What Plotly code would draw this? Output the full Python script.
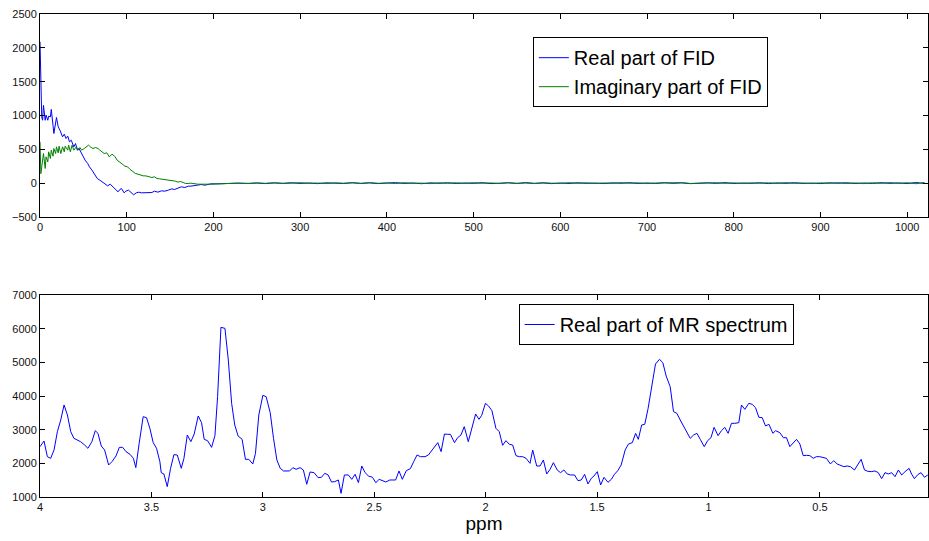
import plotly.graph_objects as go

# ---------------- Top panel: FID (sample index vs amplitude) ----------------
real_n = [0, 2, 3, 4, 6, 7, 9, 10, 12, 13, 15, 16, 19, 21, 23, 26, 28, 30, 32, 34,
          36, 39, 41, 43, 45, 48, 50, 52, 55, 57, 60, 63, 66, 69, 72, 75, 78, 81, 84, 87,
          90, 92, 94, 97, 99, 102, 105, 108, 111, 114, 117, 121, 125, 129, 132, 136, 140, 144, 148, 152,
          155, 159, 163, 167, 171, 174, 178, 182, 186, 190, 194, 197, 205, 213, 220, 228]
real_v = [2090, 980, 930, 1150, 930, 1005, 930, 990, 980, 1090, 857, 734, 970, 833, 783, 685, 724, 660, 695, 611,
          635, 537, 586, 488, 512, 438, 389, 340, 291, 241, 192, 133, 69, 44, 20, -5, -39, -15, -54, -79,
          -128, -94, -79, -143, -118, -103, -143, -172, -143, -133, -143, -138, -133, -138, -118, -133, -113, -118, -103, -84,
          -94, -74, -54, -64, -44, -44, -34, -25, -20, -30, -15, -10, -10, -5, 0, 0]

imag_n = [0, 1, 4, 6, 7, 9, 10, 12, 13, 15, 16, 18, 19, 21, 22, 24, 26, 28, 29, 32,
          33, 35, 37, 39, 42, 44, 46, 48, 51, 54, 56, 58, 61, 64, 67, 69, 71, 74, 77, 80,
          83, 86, 89, 92, 95, 98, 101, 104, 107, 110, 113, 116, 119, 122, 126, 129, 132, 135, 138, 141,
          144, 147, 150, 153, 156, 159, 162, 165, 168, 171, 174, 182, 190, 197, 205, 213, 220, 228]
imag_v = [610, 140, 438, 217, 389, 315, 463, 365, 488, 399, 512, 438, 537, 448, 547, 438, 537, 463, 547, 488,
          562, 463, 562, 488, 537, 488, 527, 488, 512, 537, 562, 537, 512, 527, 512, 488, 463, 438, 448, 389,
          429, 399, 340, 315, 281, 251, 241, 202, 167, 143, 133, 118, 108, 108, 94, 84, 94, 69, 64, 59,
          50, 45, 45, 40, 30, 15, 25, 10, -5, -5, 0, -15, -20, -15, -10, -5, -5, 0]

tail_n = list(range(240, 1021, 10))
real_tail = [-3, 2, -6, 4, -2, 6, -4, 3, -7, 5, 0, -5, 7, -3, 4, -6, 2, 8, -4, 3,
             -8, 5, -2, 6, -5, 3, -3, 7, -6, 2, 5, -4, 8, -2, 4, -7, 3, -4, 6, -3,
             2, -6, 5, -1, 7, -5, 3, -4, 6, -2, 4, -7, 2, 5, -3, 8, -5, 3, -2, 6,
             -6, 4, -3, 7, -4, 2, -6, 5, -1, 6, -5, 3, -4, 7, -3, 4, -6, 9, -4]
imag_tail = [-6, 3, -2, 5, -5, 1, 6, -3, 2, -6, 4, -1, 5, -4, 7, -2, 3, -5, 6, -3,
             1, -7, 4, -2, 5, -4, 6, -1, 3, -5, 7, -3, 2, -6, 4, 0, -4, 6, -2, 5,
             -5, 3, -3, 6, -1, 4, -6, 2, 5, -3, 7, -4, 1, -5, 6, -2, 4, -6, 3, -1,
             5, -4, 7, -3, 2, -6, 4, -2, 6, -5, 3, -7, 5, -2, 8, -4, 6, -8, 10]

# ---------------- Bottom panel: MR spectrum (ppm vs amplitude) ----------------
ppm = [4.000, 3.982, 3.967, 3.952, 3.937, 3.922, 3.907, 3.892, 3.877, 3.862,
       3.848, 3.833, 3.818, 3.800, 3.785, 3.767, 3.752, 3.740, 3.725, 3.710,
       3.692, 3.677, 3.659, 3.644, 3.629, 3.614, 3.596, 3.581, 3.570, 3.555,
       3.537, 3.522, 3.507, 3.492, 3.477, 3.462, 3.456, 3.444, 3.429, 3.414,
       3.399, 3.384, 3.366, 3.354, 3.339,
       3.323, 3.308, 3.290, 3.275, 3.263, 3.248, 3.230, 3.215, 3.203, 3.188,
       3.170, 3.155, 3.140, 3.126, 3.111, 3.093, 3.078, 3.063, 3.045, 3.033,
       3.018, 3.000, 2.985, 2.967, 2.952, 2.937, 2.922, 2.907, 2.880, 2.865,
       2.851, 2.833, 2.818, 2.803, 2.788, 2.770, 2.752, 2.737, 2.722, 2.707,
       2.692, 2.677,
       2.661, 2.649, 2.634, 2.616, 2.601, 2.586, 2.571, 2.556, 2.541, 2.526,
       2.508, 2.493, 2.478, 2.463, 2.448, 2.430, 2.404, 2.389, 2.374, 2.356,
       2.338, 2.323, 2.308, 2.293, 2.272, 2.257, 2.242, 2.227, 2.215, 2.200,
       2.185, 2.170, 2.158, 2.140, 2.126, 2.111, 2.096, 2.078, 2.063, 2.045,
       2.030, 2.018,
       2.001, 1.987, 1.972, 1.954, 1.939, 1.924, 1.909, 1.894, 1.879, 1.864,
       1.849, 1.834, 1.819, 1.801, 1.789, 1.771, 1.756, 1.741, 1.726, 1.711,
       1.696, 1.679, 1.664, 1.649, 1.634, 1.619, 1.601, 1.586, 1.571, 1.556,
       1.541, 1.526, 1.514, 1.499, 1.484, 1.469, 1.451, 1.436, 1.422, 1.407,
       1.392, 1.374, 1.359,
       1.342, 1.327, 1.315, 1.300, 1.286, 1.271, 1.256, 1.238, 1.220, 1.205,
       1.190, 1.172, 1.157, 1.142, 1.127, 1.112, 1.097, 1.082, 1.067, 1.052,
       1.037, 1.019, 1.004, 0.989, 0.975, 0.957, 0.942, 0.927, 0.912, 0.897,
       0.882, 0.864, 0.852, 0.837, 0.819, 0.804, 0.789, 0.774, 0.759, 0.744,
       0.729, 0.711, 0.699,
       0.680, 0.664, 0.650, 0.635, 0.620, 0.605, 0.590, 0.575, 0.560, 0.545,
       0.530, 0.516, 0.501, 0.486, 0.471, 0.453, 0.438, 0.423, 0.408, 0.393,
       0.378, 0.363, 0.345, 0.330, 0.315, 0.300, 0.285, 0.270, 0.253, 0.238,
       0.223, 0.208, 0.193, 0.178, 0.163, 0.148, 0.133, 0.118, 0.100, 0.088,
       0.076, 0.061, 0.046, 0.031, 0.016]
spectrum = [2495, 2663, 2198, 2149, 2396, 2941, 3287, 3733, 3436, 2941,
            2743, 2693, 2644, 2545, 2446, 2644, 2970, 2891, 2515, 2396,
            1951, 2050, 2218, 2475, 2475, 2347, 2268, 2149, 1872, 2594,
            3386, 3356, 3040, 2614, 2446, 2050, 1723, 1684, 1307, 1852,
            2258, 2248, 1852, 2149, 2842,
            2644, 2871, 3406, 3208, 2713, 2673, 2475, 2822, 3980, 6040,
            6010, 5070, 3782, 3139, 2812, 2713, 2119, 2119, 1981, 2297,
            3436, 4020, 3980, 3505, 2743, 2099, 1852, 1773, 1773, 1872,
            1822, 1872, 1802, 1377, 1743, 1723, 1575, 1585, 1703, 1654,
            1446, 1456,
            1505, 1109, 1654, 1654, 1525, 1674, 1426, 1921, 1723, 1624,
            1585, 1426, 1525, 1476, 1446, 1505, 1505, 1773, 1525, 1783,
            1842, 2050, 2248, 2198, 2198, 2248, 2376, 2515, 2614, 2347,
            2871, 2862, 2862, 2614, 2762, 2842, 3089, 2644, 3040, 3466,
            3307, 3426,
            3782, 3703, 3565, 3040, 2941, 2535, 2673, 2565, 2545, 2228,
            2198, 2198, 2149, 2000, 2396, 1921, 1921, 2099, 1684, 1822,
            2020, 1802, 1723, 1802, 1684, 1654, 1654, 1486, 1505, 1674,
            1387, 1555, 1624, 1753, 1357, 1585, 1436, 1525, 1674, 1783,
            1951, 2396, 2575,
            2614, 2891, 2713, 3139, 3159, 3634, 4277, 4950, 5089, 4990,
            4594, 4277, 3535, 3485, 3287, 3089, 2911, 2743, 2842, 2891,
            2713, 2495, 2673, 2762, 3069, 2822, 2970, 3069, 2891, 3188,
            3188, 3208, 3733, 3604, 3782, 3753, 3654, 3367, 3357, 3109,
            3159, 2891, 2970,
            2911, 2762, 2762, 2495, 2614, 2713, 2575, 2228, 2238, 2228,
            2149, 2198, 2198, 2169, 2149, 1981, 2080, 1981, 1951, 1901,
            1921, 1901, 1802, 1951, 2119, 1802, 1763, 1753, 1773, 1723,
            1545, 1723, 1684, 1723, 1604, 1802, 1654, 1753, 1852, 1674,
            1545, 1664, 1723, 1585, 1654]

top_yticks = [-500, 0, 500, 1000, 1500, 2000, 2500]
top_xticks = [0, 100, 200, 300, 400, 500, 600, 700, 800, 900, 1000]
bot_yticks = [1000, 2000, 3000, 4000, 5000, 6000, 7000]
bot_xticks = [4, 3.5, 3, 2.5, 2, 1.5, 1, 0.5]
bot_xtext = ["4", "3.5", "3", "2.5", "2", "1.5", "1", "0.5"]

FONT = "Liberation Sans, Arial, Helvetica, sans-serif"
BLUE = "#0000ff"
GREEN = "#008000"

fig = go.Figure()
fig.add_trace(go.Scatter(x=real_n + tail_n, y=real_v + real_tail, mode="lines",
                         line=dict(color=BLUE, width=1), name="Real part of FID",
                         xaxis="x", yaxis="y", legend="legend"))
fig.add_trace(go.Scatter(x=imag_n + tail_n, y=imag_v + imag_tail, mode="lines",
                         line=dict(color=GREEN, width=1), name="Imaginary part of FID",
                         xaxis="x", yaxis="y", legend="legend"))
fig.add_trace(go.Scatter(x=ppm, y=spectrum, mode="lines",
                         line=dict(color=BLUE, width=1), name="Real part of MR spectrum",
                         xaxis="x2", yaxis="y2", legend="legend2"))

axis_common = dict(showline=True, linecolor="black", linewidth=1, mirror="ticks",
                   ticks="inside", ticklen=5, tickcolor="black", showgrid=False,
                   zeroline=False, automargin=False,
                   tickfont=dict(family=FONT, size=11, color="#111111"))

fig.update_layout(
    width=929, height=541,
    margin=dict(l=40, r=1, t=14, b=44),
    paper_bgcolor="white", plot_bgcolor="white",
    font=dict(family=FONT, color="black"),
    xaxis=dict(domain=[0, 1], range=[0, 1024], tickvals=top_xticks, anchor="y", **axis_common),
    yaxis=dict(domain=[0.5797, 1], range=[-500, 2500], tickvals=top_yticks, anchor="x", **axis_common),
    xaxis2=dict(domain=[0, 1], range=[4, 0.015], tickvals=bot_xticks, ticktext=bot_xtext, anchor="y2",
                title=dict(text="ppm", font=dict(family=FONT, size=19, color="black"), standoff=2),
                **axis_common),
    yaxis2=dict(domain=[0, 0.4182], range=[1000, 7000], tickvals=bot_yticks, anchor="x2", **axis_common),
    legend=dict(x=0.555, y=0.952, xanchor="left", yanchor="top", bgcolor="white",
                bordercolor="black", borderwidth=1, tracegroupgap=0,
                font=dict(family=FONT, size=20, color="black")),
    legend2=dict(x=0.539, y=0.3996, xanchor="left", yanchor="top", bgcolor="white",
                 bordercolor="black", borderwidth=1,
                 font=dict(family=FONT, size=20, color="black")),
    showlegend=True,
)

fig.write_html("out.html", config=dict(displayModeBar=False),
               post_script="document.body.style.margin='0px';document.body.style.overflow='hidden';")
